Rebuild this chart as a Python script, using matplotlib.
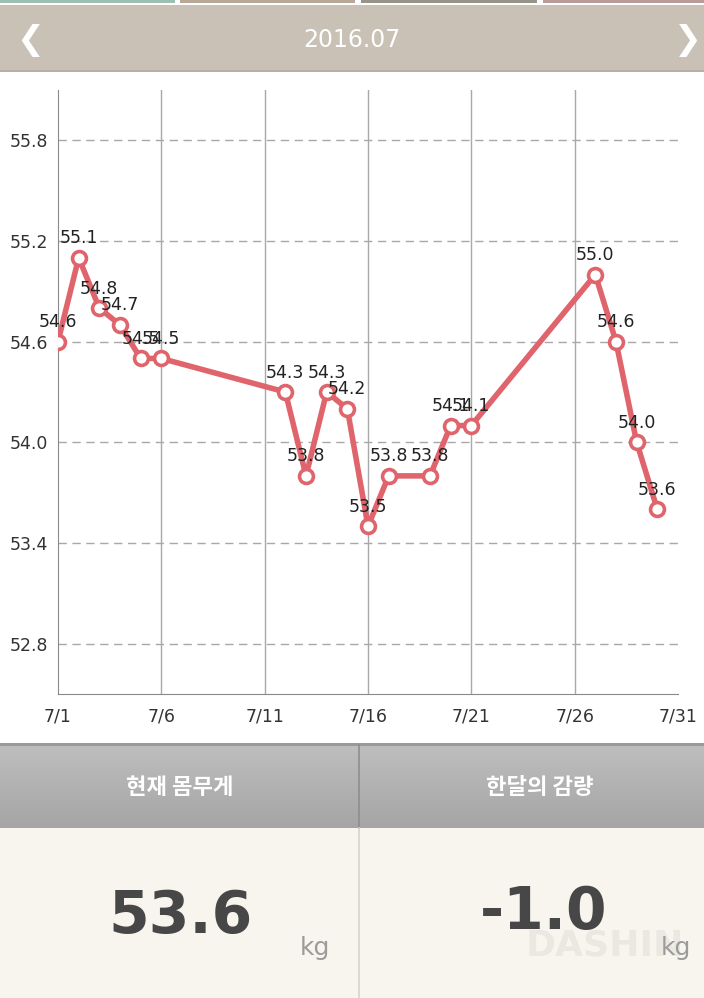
import matplotlib
matplotlib.use("Agg")
import matplotlib.pyplot as plt
import numpy as np
from matplotlib.patches import Rectangle

plt.rcParams['font.family'] = ['Noto Sans CJK KR', 'DejaVu Sans']

# ---- data ----
days = [1, 2, 3, 4, 5, 6, 12, 13, 14, 15, 16, 17, 19, 20, 21, 27, 28, 29, 30]
weights = [54.6, 55.1, 54.8, 54.7, 54.5, 54.5, 54.3, 53.8, 54.3, 54.2,
           53.5, 53.8, 53.8, 54.1, 54.1, 55.0, 54.6, 54.0, 53.6]
x_ticks = [1, 6, 11, 16, 21, 26, 31]
x_tick_labels = ["7/1", "7/6", "7/11", "7/16", "7/21", "7/26", "7/31"]
y_ticks = [52.8, 53.4, 54.0, 54.6, 55.2, 55.8]
title = "2016.07"
current_weight = "53.6"
month_change = "-1.0"
header_labels = ["현재 몸무게", "한달의 감량"]

W, H = 704, 998
fig = plt.figure(figsize=(W / 100, H / 100), dpi=100)
fig.patch.set_facecolor("white")

def fx(px):
    return px / W

def fy(py):
    return 1 - py / H

# background overlay axes for UI panels
bg = fig.add_axes([0, 0, 1, 1])
bg.set_xlim(0, W)
bg.set_ylim(H, 0)
bg.axis("off")

# top colored tabs
tabs = [(0, 175, "#9dbfb0"), (180, 355, "#b9a898"), (361, 537, "#98948a"), (543, 704, "#b79c97")]
for x0, x1, c in tabs:
    bg.add_patch(Rectangle((x0, 0), x1 - x0, 3, color=c, lw=0))
# header bar
bg.add_patch(Rectangle((0, 5), W, 65, color="#c9c0b6", lw=0))
bg.add_patch(Rectangle((0, 70), W, 2, color="#b8b0a6", lw=0))
bg.text(W / 2, 40, title, color="white", fontsize=17, ha="center", va="center",
        family=["DejaVu Sans"])
bg.text(30, 40, "❮", color="white", fontsize=24, ha="center", va="center", family=["DejaVu Sans"])
bg.text(688, 40, "❯", color="white", fontsize=24, ha="center", va="center", family=["DejaVu Sans"])

# gray gradient header panel
grad = np.linspace(0, 1, 100).reshape(-1, 1)
bg.imshow(grad, extent=(0, W, 828, 745), cmap=matplotlib.colors.LinearSegmentedColormap.from_list(
    "g", ["#bebebe", "#a5a5a5"]), aspect="auto", zorder=1)
bg.add_patch(Rectangle((0, 743), W, 3, color="#9a9a9a", lw=0, zorder=2))
# cream bottom panel
bg.add_patch(Rectangle((0, 828), W, H - 828, color="#f8f5ee", lw=0, zorder=1))
bg.plot([359, 359], [745, 828], color="#8e8e8e", lw=1.2, zorder=3)
bg.plot([359, 359], [828, H], color="#d8d4cc", lw=1.2, zorder=3)

bg.text(180, 787, header_labels[0], color="white", fontsize=16, ha="center", va="center",
        weight="bold", zorder=4)
bg.text(540, 787, header_labels[1], color="white", fontsize=16, ha="center", va="center",
        weight="bold", zorder=4)

bg.text(605, 945, "DASHIN", color="#ebe8e2", fontsize=26, ha="center", va="center", zorder=3,
        weight="bold", family=["DejaVu Sans"])
bg.text(181, 917, current_weight, color="#474747", fontsize=42, ha="center", va="center",
        weight="semibold", zorder=4, family=["DejaVu Sans"])
bg.text(315, 948, "kg", color="#9b9b9b", fontsize=18, ha="center", va="center", zorder=4,
        family=["DejaVu Sans"])
bg.text(544, 912, month_change, color="#474747", fontsize=42, ha="center", va="center",
        weight="semibold", zorder=4, family=["DejaVu Sans"])
bg.text(676, 948, "kg", color="#9b9b9b", fontsize=18, ha="center", va="center", zorder=4,
        family=["DejaVu Sans"])

# ---- chart ----
left, right, top, bottom = 58, 678, 90, 694
ax = fig.add_axes([fx(left), fy(bottom), fx(right - left), (bottom - top) / H])
ax.set_facecolor("white")
ax.set_xlim(1, 31)
ax.set_ylim(52.5, 56.1)

for t in x_ticks[1:-1]:
    ax.axvline(t, color="#a8a8a8", lw=1.0, zorder=1)
for t in y_ticks:
    ax.axhline(t, color="#a8a8a8", lw=1.0, ls=(0, (6, 4)), zorder=1)

ax.plot(days, weights, color="#e0646c", lw=4, zorder=3, solid_joinstyle="round")
ax.plot(days, weights, ls="none", marker="o", ms=10, mfc="white", mec="#e0646c", mew=2.6, zorder=4)

for d, w in zip(days, weights):
    ax.annotate(f"{w:.1f}", (d, w), xytext=(0, 14), textcoords="offset points", ha="center",
                va="center", fontsize=12.5, color="#222222", zorder=5, family=["DejaVu Sans"])

ax.set_xticks(x_ticks)
ax.set_xticklabels(x_tick_labels, family=["DejaVu Sans"])
ax.set_yticks(y_ticks)
ax.set_yticklabels([f"{v:.1f}" for v in y_ticks], family=["DejaVu Sans"])
ax.tick_params(axis="both", length=0, labelsize=12.5, colors="#333333")
ax.tick_params(axis="x", pad=10)
ax.tick_params(axis="y", pad=7)
for s in ["top", "right"]:
    ax.spines[s].set_visible(False)
ax.spines["left"].set_color("#8a8a8a")
ax.spines["bottom"].set_color("#8a8a8a")

fig.savefig("out.png", dpi=100)
